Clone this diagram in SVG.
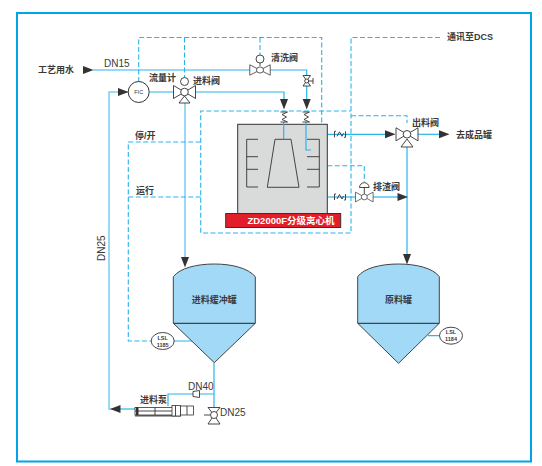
<svg xmlns="http://www.w3.org/2000/svg" width="542" height="466" viewBox="0 0 542 466">
<style>
text{font-family:"Liberation Sans","Noto Sans CJK SC",sans-serif;fill:#3a3a3a;font-weight:bold;font-size:9px}
.dn{font-weight:normal;font-size:10px}
.pipe{fill:none;stroke:#2bb4ec;stroke-width:1.2}
.thick{fill:none;stroke:#7fd0f4;stroke-width:1.6}
.dash{fill:none;stroke:#2bb4ec;stroke-width:1.1;stroke-dasharray:5 2.5}
.sym{fill:#fff;stroke:#333;stroke-width:.9}
.thin{fill:none;stroke:#333;stroke-width:.9}
.tank{fill:#a2d9f7;stroke:#444;stroke-width:1}
.mid{text-anchor:middle}
.lsl{font-size:5.500px;text-anchor:middle}
</style>
<defs>
<path id="ar" d="M0-4L10.500 0L0 4Z" fill="#333"/>
<g id="valve"><path class="sym" d="M-11-6.500L0 0L-11 6.500ZM11-6.500L0 0L11 6.500Z"/><circle class="sym" cx="0" cy="0" r="3.800"/></g>
<g id="spring"><path class="thin" stroke-width="1" d="M-3.500-5H3.500L-2-2.500L2.500 0L-2 2.500L3.500 5H-3.500"/></g>
<g id="flex"><path class="thin" d="M-5.500 3V-3H-4M5.500-3V3H4M-3 2L-.5-2.500L2 2L3.500-1"/></g>
</defs>
<g id="frame"><rect x="17" y="13" width="514" height="448.500" fill="none" stroke="#00a5e8" stroke-width="2"/></g>
<g id="connectors">
<path class="pipe" d="M93 70H306.700V100"/>
<path class="thick" d="M128 92H109V409H120"/>
<path class="pipe" d="M150 92H284V100"/>
<path class="thick" d="M185 103V258"/>
<path class="pipe" d="M327.300 134.300H386"/>
<path class="pipe" d="M417 134.300H440"/>
<path class="pipe" d="M407 146V255"/>
<path class="pipe" d="M327.300 197H356"/>
<path class="pipe" d="M373 197H398"/>
<path class="pipe" d="M120 409H135"/>
<path class="pipe" d="M214 363V407M214 394H168V406"/>
<path class="pipe" d="M174 341H193M428 335.700H440"/>
<path class="dash" d="M138.700 82V37.500H321.700V124"/>
<path class="dash" d="M184.500 37.500V77M260 37.500V55"/>
<path class="dash" d="M440 37.500H351V233H200.700V111H351"/>
<path class="dash" d="M351 115.700H407V123"/>
<path class="dash" d="M200.700 142H128.300V341H151.500M128.300 197H200.700"/>
<path class="dash" d="M327.300 165.700H364.300V182"/>
<g id="arrowheads">
<use href="#ar" transform="translate(83 70)"/>
<use href="#ar" transform="translate(118 92)"/>
<use href="#ar" transform="translate(284 99) rotate(90)"/>
<use href="#ar" transform="translate(306.700 99) rotate(90)"/>
<use href="#ar" transform="translate(185 257) rotate(90)"/>
<use href="#ar" transform="translate(385 134.300)"/>
<use href="#ar" transform="translate(439 134.300)"/>
<use href="#ar" transform="translate(407 254) rotate(90)"/>
<use href="#ar" transform="translate(397.500 197)"/>
<use href="#ar" transform="translate(120.500 409) rotate(180)"/>
</g>
</g>
<g id="centrifuge">
<rect x="237.700" y="124.300" width="89.600" height="90" fill="#d9dbdb" stroke="#333" stroke-width="1"/>
<path class="thin" d="M275 139.300H291L299 187.300H267.300Z"/>
<path class="thin" d="M258 139.300H246.700V187H258M246.700 156.700H258M246.700 169.300H258M307 139.300H319.300V187H307M307 156.700H319.300M307 169.300H319.300"/>
<path class="pipe" d="M283.700 122V139M306 122V150H311"/>
<rect x="225.700" y="213.500" width="115" height="14" fill="#e31e2a" stroke="#333" stroke-width="1"/>
<text x="291" y="224" class="mid" style="fill:#fff;font-size:9.500px">ZD2000F分级离心机</text>
</g>
<g id="springs">
<use href="#spring" x="284" y="117"/><use href="#spring" x="306" y="117"/>
<use href="#flex" x="340" y="134.300"/><use href="#flex" x="340" y="197"/>
</g>
<g id="clean-valve"><use href="#valve" transform="translate(260 70) scale(.93 .8)"/><circle class="sym" cx="260" cy="59" r="4"/><path class="thin" d="M260 63V66"/><text x="271" y="61">清洗阀</text></g>
<g id="small-valve"><path class="sym" d="M303 75.500H310.500L303 86H310.500Z"/><circle class="sym" cx="306.700" cy="81" r="2"/><path class="thin" d="M308.700 81H313M313 78V84"/></g>
<g id="fic"><circle cx="138.700" cy="92" r="10.500" fill="#fff" stroke="#333" stroke-width="1"/><text x="138.700" y="94" class="mid" style="font-size:5.500px;font-weight:normal">FIC</text><text x="149" y="81">流量计</text></g>
<g id="feed-valve"><use href="#valve" transform="translate(184.500 92)"/><circle class="sym" cx="184.500" cy="81.500" r="4"/><path class="sym" d="M184.500 96L190 103H179Z"/><text x="193" y="84">进料阀</text></g>
<g id="out-valve"><use href="#valve" transform="translate(407 134.300)"/><path class="sym" d="M407 139L413 147H401Z"/><text x="412" y="126">出料阀</text></g>
<g id="drain-valve"><use href="#valve" transform="translate(364.300 197) scale(.8 .75)"/><path class="sym" d="M359.500 187.500A4.800 4.800 0 0 1 369.100 187.500Z"/><path class="thin" d="M364.300 187.500V194"/><text x="373" y="190">排渣阀</text></g>
<g id="tank1">
<path class="tank" d="M173.300 323.300V276.700C180 268 197 264 214.300 264S248 268 255.300 276.700V323.300L214.300 362.700L173.300 323.300Z"/>
<path d="M173.300 323.300H255.300" stroke="#444" stroke-width="1.200"/>
<text x="214.300" y="302.500" class="mid">进料缓冲罐</text>
</g>
<g id="tank2">
<path class="tank" d="M357.700 323.300V276.700C364 268 381 264 398.500 264S433 268 439.300 276.700V323.300L398.500 363.300L357.700 323.300Z"/>
<path d="M357.700 323.300H439.300" stroke="#444" stroke-width="1.200"/>
<text x="398.500" y="302.500" class="mid">原料罐</text>
</g>
<g id="lsl1185"><ellipse cx="162.700" cy="341" rx="11.500" ry="8.500" fill="#fff" stroke="#333" stroke-width=".9"/><text x="162.700" y="339.500" class="lsl">LSL</text><text x="162.700" y="346.500" class="lsl">1185</text></g>
<g id="lsl1184"><ellipse cx="451" cy="335.700" rx="11.500" ry="8.500" fill="#fff" stroke="#333" stroke-width=".9"/><text x="451" y="334" class="lsl">LSL</text><text x="451" y="341" class="lsl">1184</text></g>
<g id="pump">
<rect x="135" y="407.500" width="40" height="7.500" fill="#fff" stroke="#333" stroke-width=".8"/>
<path class="thin" d="M135 411H172M155 407.500V415"/>
<rect x="135" y="415" width="46" height="1.500" fill="#555"/>
<rect x="136" y="407" width="2.500" height="8" fill="#333"/>
<rect x="172" y="405.500" width="8.500" height="10.500" fill="#fff" stroke="#333" stroke-width=".8"/>
<path class="thin" d="M175.500 405.500V416"/>
<rect x="180.500" y="406" width="13" height="9" fill="#fff" stroke="#333" stroke-width=".8"/>
<path class="thin" d="M187 406V415"/>
<text x="140" y="403">进料泵</text>
</g>
<g id="dn40-reducer"><path class="sym" d="M193 391.500L199.500 390.500V397.500L193 396.500Z"/></g>
<g id="dn25-valve"><path class="sym" d="M208 407.500H220L214 415L220 424H208L214 415Z"/><circle class="sym" cx="214" cy="415" r="3.500"/><path class="thin" d="M204 415H210"/></g>
<g id="labels">
<text x="38" y="73">工艺用水</text>
<text x="104" y="67" class="dn">DN15</text>
<text x="135" y="139">停/开</text>
<text x="136" y="194">运行</text>
<text x="105" y="261" transform="rotate(-90 105 261)" class="dn">DN25</text>
<text x="447" y="40">通讯至DCS</text>
<text x="456" y="138">去成品罐</text>
<text x="188" y="389.500" class="dn">DN40</text>
<text x="220" y="415.500" class="dn">DN25</text>
</g>
</svg>
